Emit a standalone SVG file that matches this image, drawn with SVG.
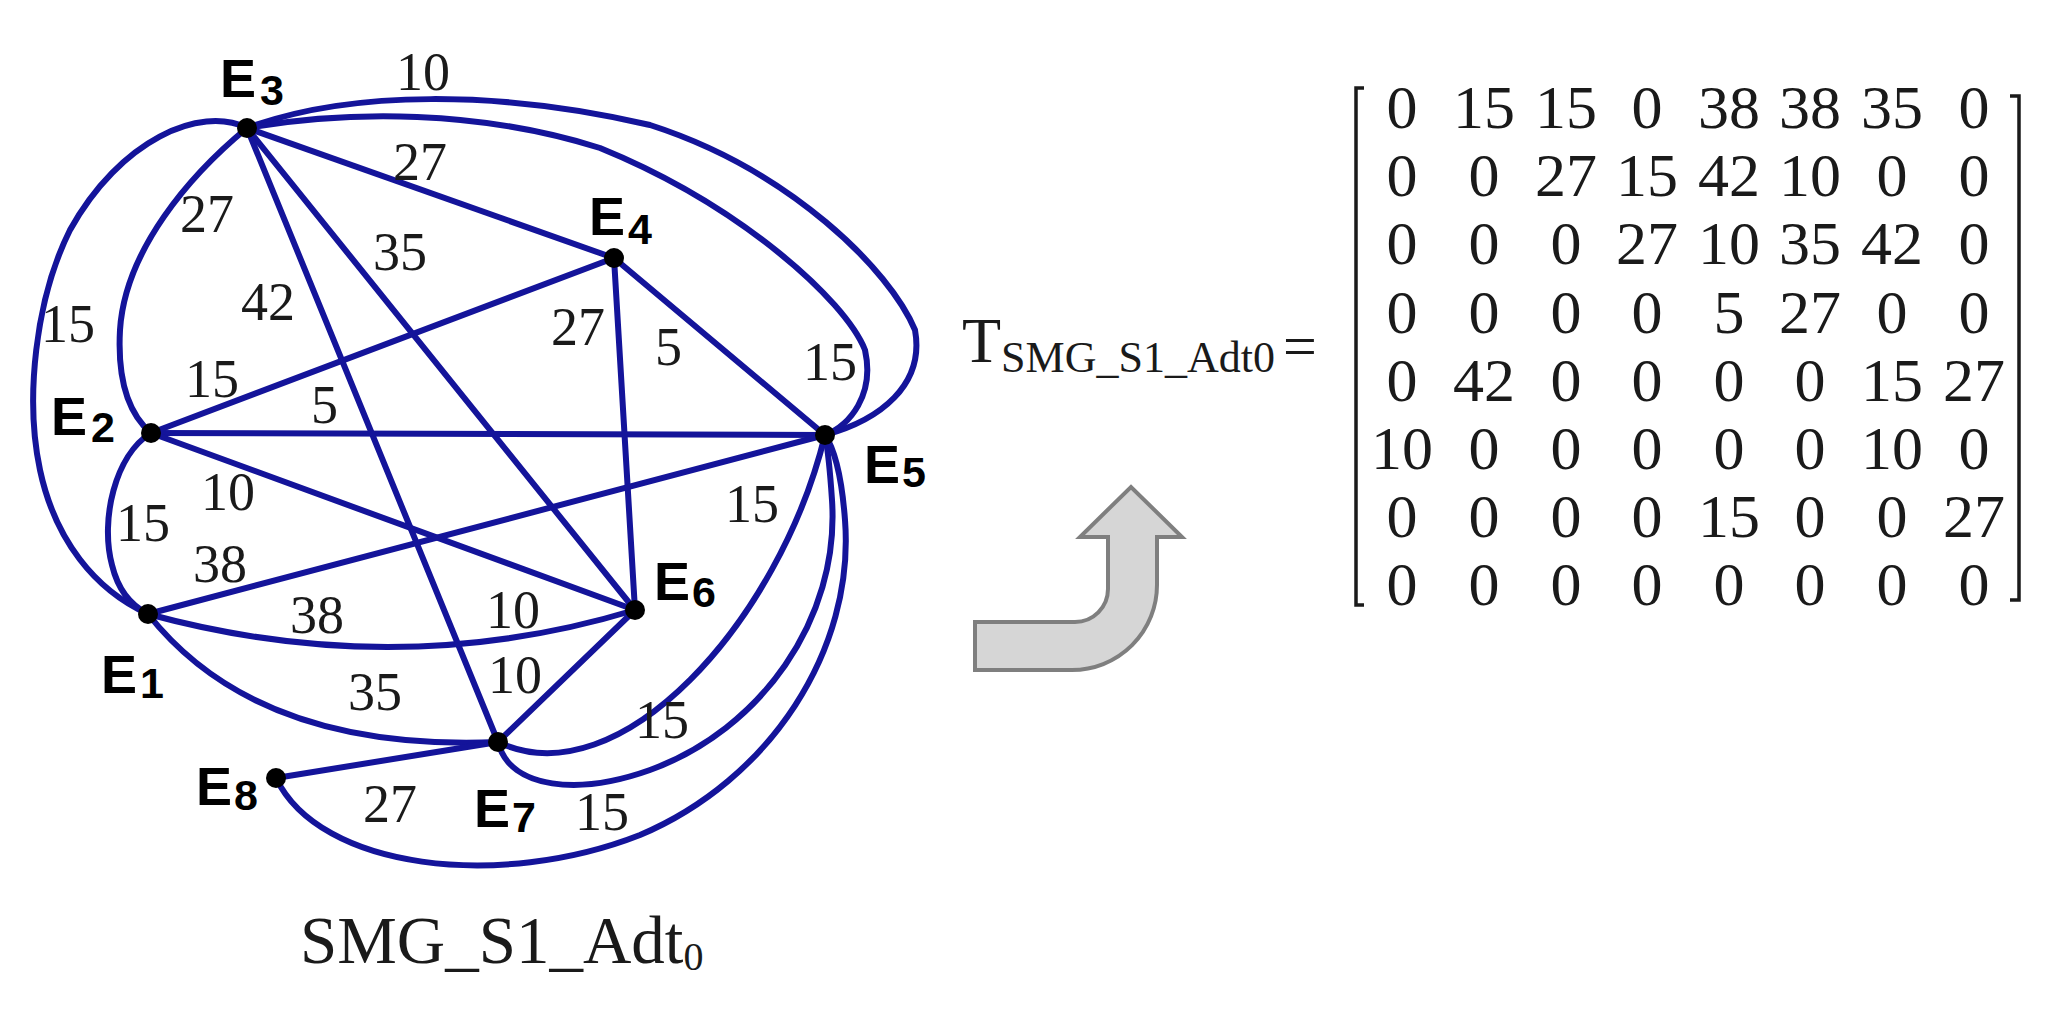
<svg xmlns="http://www.w3.org/2000/svg" width="2068" height="1012" viewBox="0 0 2068 1012">
<style>
.edge{fill:none;stroke:#14149a;stroke-width:6;stroke-linecap:round}
.dot{fill:#000}
.nl{font-family:"Liberation Sans",Arial,sans-serif;font-weight:bold;font-size:54px;fill:#000}
.ns{font-size:43px}
.w{font-family:"Liberation Serif","Times New Roman",serif;font-size:54px;fill:#1a1a1a}
.mx{font-family:"Liberation Serif","Times New Roman",serif;font-size:62px;fill:#1a1a1a;text-anchor:middle}
.br{fill:none;stroke:#1a1a1a;stroke-width:3.5}
.cap{font-family:"Liberation Serif","Times New Roman",serif;fill:#1a1a1a}
</style>
<rect width="2068" height="1012" fill="#fff"/>
<g id="connectors">
<path class="edge" d="M247,128 C200,105 120,140 70,230 C35,300 25,400 40,470 C55,540 95,590 148,614"/>
<path class="edge" d="M247,128 C190,175 125,250 120,330 C117,385 130,415 151,433"/>
<path class="edge" d="M151,433 C115,455 100,520 112,565 C118,590 130,605 148,614"/>
<path class="edge" d="M247,128 C350,90 500,90 650,125 C790,170 890,270 915,330 C925,385 880,420 825,435"/>
<path class="edge" d="M247,128 C350,110 480,110 600,148 C740,205 845,300 865,350 C875,395 850,425 825,435"/>
<line class="edge" x1="247" y1="128" x2="614" y2="258"/>
<line class="edge" x1="247" y1="128" x2="635" y2="610"/>
<line class="edge" x1="247" y1="128" x2="498" y2="742"/>
<line class="edge" x1="151" y1="433" x2="614" y2="258"/>
<line class="edge" x1="151" y1="433" x2="825" y2="435"/>
<line class="edge" x1="151" y1="433" x2="635" y2="610"/>
<line class="edge" x1="614" y1="258" x2="825" y2="435"/>
<line class="edge" x1="614" y1="258" x2="635" y2="610"/>
<line class="edge" x1="148" y1="614" x2="825" y2="435"/>
<path class="edge" d="M148,614 Q398,682 635,610"/>
<path class="edge" d="M148,614 Q257,752 498,742"/>
<line class="edge" x1="635" y1="610" x2="498" y2="742"/>
<line class="edge" x1="276" y1="778" x2="498" y2="742"/>
<path class="edge" d="M498,742 C620,800 780,620 825,435"/>
<path class="edge" d="M498,742 C510,790 580,795 650,770 C760,730 840,620 832,500 C830,470 828,450 825,435"/>
<path class="edge" d="M276,778 C320,870 500,890 640,835 C770,780 855,650 845,520 C842,480 835,450 825,435"/>
</g>
<g id="edge-labels" class="w">
<text x="396" y="90">10</text>
<text x="393" y="180">27</text>
<text x="180" y="232">27</text>
<text x="373" y="270">35</text>
<text x="241" y="320">42</text>
<text x="41" y="342">15</text>
<text x="185" y="397">15</text>
<text x="311" y="423">5</text>
<text x="201" y="510">10</text>
<text x="116" y="541">15</text>
<text x="193" y="582">38</text>
<text x="290" y="633">38</text>
<text x="348" y="710">35</text>
<text x="363" y="822">27</text>
<text x="551" y="345">27</text>
<text x="655" y="365">5</text>
<text x="803" y="380">15</text>
<text x="725" y="522">15</text>
<text x="486" y="628">10</text>
<text x="488" y="693">10</text>
<text x="635" y="738">15</text>
<text x="575" y="830">15</text>
</g>
<g id="E1"><circle class="dot" cx="148" cy="614" r="10"/><text class="nl" x="101" y="693">E<tspan class="ns" dx="3" dy="5">1</tspan></text></g>
<g id="E2"><circle class="dot" cx="151" cy="433" r="10"/><text class="nl" x="51" y="435">E<tspan class="ns" dx="4" dy="7">2</tspan></text></g>
<g id="E3"><circle class="dot" cx="247" cy="128" r="10"/><text class="nl" x="220" y="97">E<tspan class="ns" dx="4" dy="8">3</tspan></text></g>
<g id="E4"><circle class="dot" cx="614" cy="258" r="10"/><text class="nl" x="589" y="235">E<tspan class="ns" dx="3" dy="9">4</tspan></text></g>
<g id="E5"><circle class="dot" cx="825" cy="435" r="10"/><text class="nl" x="864" y="483">E<tspan class="ns" dx="2" dy="4">5</tspan></text></g>
<g id="E6"><circle class="dot" cx="635" cy="610" r="10"/><text class="nl" x="654" y="600">E<tspan class="ns" dx="2" dy="7">6</tspan></text></g>
<g id="E7"><circle class="dot" cx="498" cy="742" r="10"/><text class="nl" x="474" y="827">E<tspan class="ns" dx="2" dy="5">7</tspan></text></g>
<g id="E8"><circle class="dot" cx="276" cy="778" r="10"/><text class="nl" x="196" y="805">E<tspan class="ns" dx="2" dy="5">8</tspan></text></g>
<g id="caption"><text class="cap" x="300" y="963" font-size="67">SMG_S1_Adt<tspan font-size="40" dy="7">0</tspan></text></g>
<g id="arrow"><path d="M975,622 L1075,622 A33,33 0 0 0 1108,589 L1108,537 L1080,537 L1131,487 L1182,537 L1157,537 L1157,585 A85,85 0 0 1 1072,670 L975,670 Z" fill="#d6d6d6" stroke="#7f7f7f" stroke-width="4" stroke-linejoin="miter"/></g>
<g id="matrix-label"><text class="cap" x="962" y="362" font-size="64">T<tspan font-size="44" dy="10">SMG_S1_Adt0</tspan><tspan font-size="60" dx="8" dy="-6">=</tspan></text></g>
<g id="matrix">
<path class="br" d="M1364,88 H1356 V605 H1364"/>
<path class="br" d="M2010,96 H2019 V600 H2010"/>
<g class="mx">
<text y="128"><tspan x="1402">0</tspan><tspan x="1484">15</tspan><tspan x="1566">15</tspan><tspan x="1647">0</tspan><tspan x="1729">38</tspan><tspan x="1810">38</tspan><tspan x="1892">35</tspan><tspan x="1974">0</tspan></text>
<text y="196"><tspan x="1402">0</tspan><tspan x="1484">0</tspan><tspan x="1566">27</tspan><tspan x="1647">15</tspan><tspan x="1729">42</tspan><tspan x="1810">10</tspan><tspan x="1892">0</tspan><tspan x="1974">0</tspan></text>
<text y="264"><tspan x="1402">0</tspan><tspan x="1484">0</tspan><tspan x="1566">0</tspan><tspan x="1647">27</tspan><tspan x="1729">10</tspan><tspan x="1810">35</tspan><tspan x="1892">42</tspan><tspan x="1974">0</tspan></text>
<text y="333"><tspan x="1402">0</tspan><tspan x="1484">0</tspan><tspan x="1566">0</tspan><tspan x="1647">0</tspan><tspan x="1729">5</tspan><tspan x="1810">27</tspan><tspan x="1892">0</tspan><tspan x="1974">0</tspan></text>
<text y="401"><tspan x="1402">0</tspan><tspan x="1484">42</tspan><tspan x="1566">0</tspan><tspan x="1647">0</tspan><tspan x="1729">0</tspan><tspan x="1810">0</tspan><tspan x="1892">15</tspan><tspan x="1974">27</tspan></text>
<text y="469"><tspan x="1402">10</tspan><tspan x="1484">0</tspan><tspan x="1566">0</tspan><tspan x="1647">0</tspan><tspan x="1729">0</tspan><tspan x="1810">0</tspan><tspan x="1892">10</tspan><tspan x="1974">0</tspan></text>
<text y="537"><tspan x="1402">0</tspan><tspan x="1484">0</tspan><tspan x="1566">0</tspan><tspan x="1647">0</tspan><tspan x="1729">15</tspan><tspan x="1810">0</tspan><tspan x="1892">0</tspan><tspan x="1974">27</tspan></text>
<text y="605"><tspan x="1402">0</tspan><tspan x="1484">0</tspan><tspan x="1566">0</tspan><tspan x="1647">0</tspan><tspan x="1729">0</tspan><tspan x="1810">0</tspan><tspan x="1892">0</tspan><tspan x="1974">0</tspan></text>
</g>
</g>
</svg>
